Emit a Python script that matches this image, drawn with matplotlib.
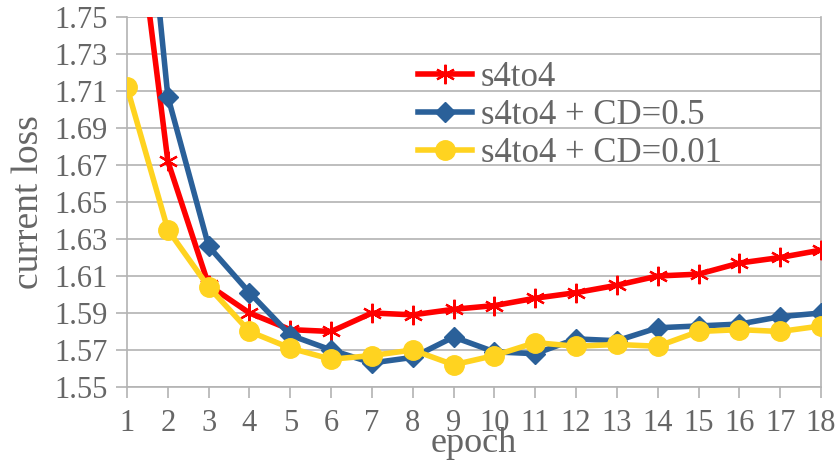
import numpy as np
import matplotlib.pyplot as plt

plt.rcParams['font.family'] = ['Liberation Serif', 'DejaVu Serif']

epochs = list(range(1, 19))
loss_s4to4 = [1.849, 1.672, 1.605, 1.590, 1.581, 1.580, 1.590, 1.589, 1.592,
              1.594, 1.598, 1.601, 1.605, 1.610, 1.611, 1.617, 1.620, 1.624]
loss_cd05 = [1.930, 1.707, 1.626, 1.601, 1.578, 1.570, 1.563, 1.566, 1.577,
             1.569, 1.568, 1.576, 1.575, 1.582, 1.583, 1.584, 1.588, 1.590]
loss_cd001 = [1.712, 1.635, 1.604, 1.580, 1.571, 1.565, 1.567, 1.570, 1.562,
              1.567, 1.574, 1.572, 1.573, 1.572, 1.580, 1.581, 1.580, 1.583]
yticks = [1.55, 1.57, 1.59, 1.61, 1.63, 1.65, 1.67, 1.69, 1.71, 1.73, 1.75]

text_col = '#666666'
grid_col = '#b3b3b3'

fig = plt.figure(figsize=(8.39, 4.68), dpi=100)
ax = fig.add_axes([0.1514, 0.1731, 0.8272, 0.7906])

ax.plot(epochs, loss_s4to4, color='#ff0000', lw=4, marker=(6, 2, 0),
        ms=14, mew=1.6, label='s4to4', zorder=3)
ax.plot(epochs, loss_cd05, color='#2a6099', lw=4, marker='D',
        ms=10, label='s4to4 + CD=0.5', zorder=4)
ax.plot(epochs, loss_cd001, color='#ffd320', lw=4, marker='o',
        ms=14, label='s4to4 + CD=0.01', zorder=5)

ax.set_xlim(1, 18)
ax.set_ylim(1.55, 1.75)
ax.set_xticks(epochs)
ax.set_yticks(yticks)
ax.set_yticklabels([f'{v:.2f}' for v in yticks])
ax.yaxis.grid(True, color=grid_col, lw=1.2)
ax.set_axisbelow(True)

for side in ['left', 'right', 'bottom']:
    ax.spines[side].set_color(grid_col)
    ax.spines[side].set_linewidth(1.2)
ax.spines['top'].set_visible(False)
ax.tick_params(axis='both', colors=grid_col, labelcolor=text_col,
               labelsize=22, length=8, width=1.2)
ax.tick_params(axis='x', pad=8)
ax.tick_params(axis='y', pad=6)

ax.set_xlabel('epoch', fontsize=26, color=text_col, labelpad=-8)
ax.set_ylabel('current loss', fontsize=27, color=text_col, labelpad=6)

# frameless legend sitting over the gridlines
leg = ax.legend(loc='upper left', bbox_to_anchor=(0.419, 0.88), frameon=False,
                prop={'family': 'Liberation Serif', 'size': 25},
                labelcolor=text_col, handlelength=1.56,
                handletextpad=0.25, labelspacing=0.14, borderaxespad=0,
                borderpad=0)

fig.savefig('out.png', dpi=100)
